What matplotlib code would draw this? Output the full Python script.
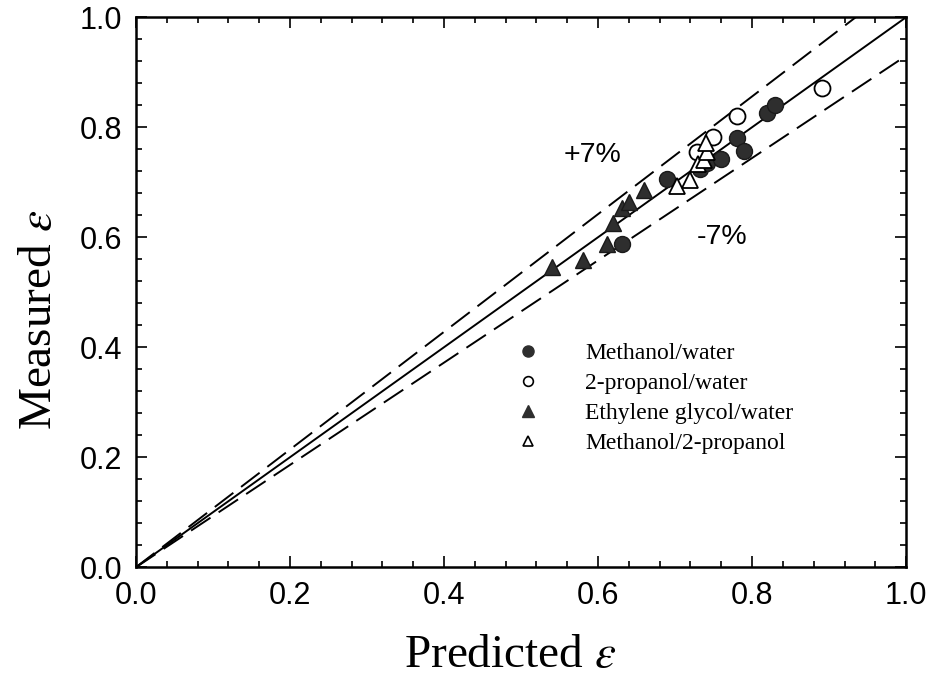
import numpy as np
import matplotlib
matplotlib.use('Agg')
import matplotlib.pyplot as plt
from matplotlib.ticker import MultipleLocator

# measured vs predicted effectiveness
mw_pred = [0.631, 0.690, 0.732, 0.742, 0.760, 0.781, 0.790, 0.819, 0.830]
mw_meas = [0.588, 0.706, 0.724, 0.735, 0.742, 0.780, 0.757, 0.826, 0.840]

pw_pred = [0.729, 0.749, 0.781, 0.891]
pw_meas = [0.755, 0.782, 0.820, 0.871]

eg_pred = [0.540, 0.580, 0.612, 0.619, 0.631, 0.640, 0.660]
eg_meas = [0.546, 0.558, 0.588, 0.626, 0.653, 0.664, 0.686]

mp_pred = [0.702, 0.720, 0.730, 0.738, 0.742, 0.740]
mp_meas = [0.693, 0.704, 0.733, 0.740, 0.755, 0.772]

labels = ['Methanol/water', '2-propanol/water', 'Ethylene glycol/water', 'Methanol/2-propanol']
band = 0.07

plt.rcParams['mathtext.fontset'] = 'stix'

fig = plt.figure(figsize=(9.38, 6.90), dpi=100)
ax = fig.add_axes([0.145, 0.178, 0.821, 0.797])

x = np.array([0.0, 1.0])
ax.plot(x, x, color='black', lw=1.4)
ax.plot(x, (1 + band) * x, color='black', lw=1.4, dashes=(12, 5))
ax.plot(x, (1 - band) * x, color='black', lw=1.4, dashes=(12, 5))

ms = 11.5
fill = '#2e2e2e'
ax.plot(mw_pred, mw_meas, 'o', color=fill, mec='#1a1a1a', ms=ms, ls='none')
ax.plot(pw_pred, pw_meas, 'o', mfc='white', mec='black', mew=1.3, ms=ms, ls='none')
ax.plot(eg_pred, eg_meas, '^', color=fill, mec='#1a1a1a', ms=ms, ls='none')
ax.plot(mp_pred, mp_meas, '^', mfc='white', mec='black', mew=1.3, ms=ms, ls='none')

# legend drawn with smaller markers like the original
h = [
    ax.plot([], [], 'o', color=fill, ms=8, ls='none')[0],
    ax.plot([], [], 'o', mfc='white', mec='black', mew=1.2, ms=7, ls='none')[0],
    ax.plot([], [], '^', color=fill, ms=8, ls='none')[0],
    ax.plot([], [], '^', mfc='white', mec='black', mew=1.2, ms=7, ls='none')[0],
]
ax.legend(h, labels, loc='upper left', bbox_to_anchor=(0.482, 0.425), frameon=False,
          prop={'family': 'Liberation Serif', 'size': 17}, handlelength=1.0,
          handletextpad=1.9, labelspacing=0.35, borderaxespad=0)

ax.text(0.593, 0.75, '+7%', fontsize=20.5, family='Liberation Sans', ha='center', va='center')
ax.text(0.761, 0.60, '-7%', fontsize=20.5, family='Liberation Sans', ha='center', va='center')

ax.set_xlim(0, 1)
ax.set_ylim(0, 1)
ax.xaxis.set_major_locator(MultipleLocator(0.2))
ax.yaxis.set_major_locator(MultipleLocator(0.2))
ax.xaxis.set_minor_locator(MultipleLocator(0.04))
ax.yaxis.set_minor_locator(MultipleLocator(0.04))
ax.tick_params(which='both', direction='in', top=True, right=True, width=1.2)
ax.tick_params(which='major', length=8, labelsize=22, pad=10)
ax.tick_params(which='minor', length=4)
for lab in ax.get_xticklabels() + ax.get_yticklabels():
    lab.set_family('Liberation Sans')
for s in ax.spines.values():
    s.set_linewidth(1.8)

ax.set_xlabel(r'Predicted $\varepsilon$', family='Liberation Serif', fontsize=34)
ax.set_ylabel(r'Measured $\varepsilon$', family='Liberation Serif', fontsize=34)
ax.xaxis.set_label_coords(0.486, -0.122)
ax.yaxis.set_label_coords(-0.097, 0.45)

fig.savefig('out.png', dpi=100)
